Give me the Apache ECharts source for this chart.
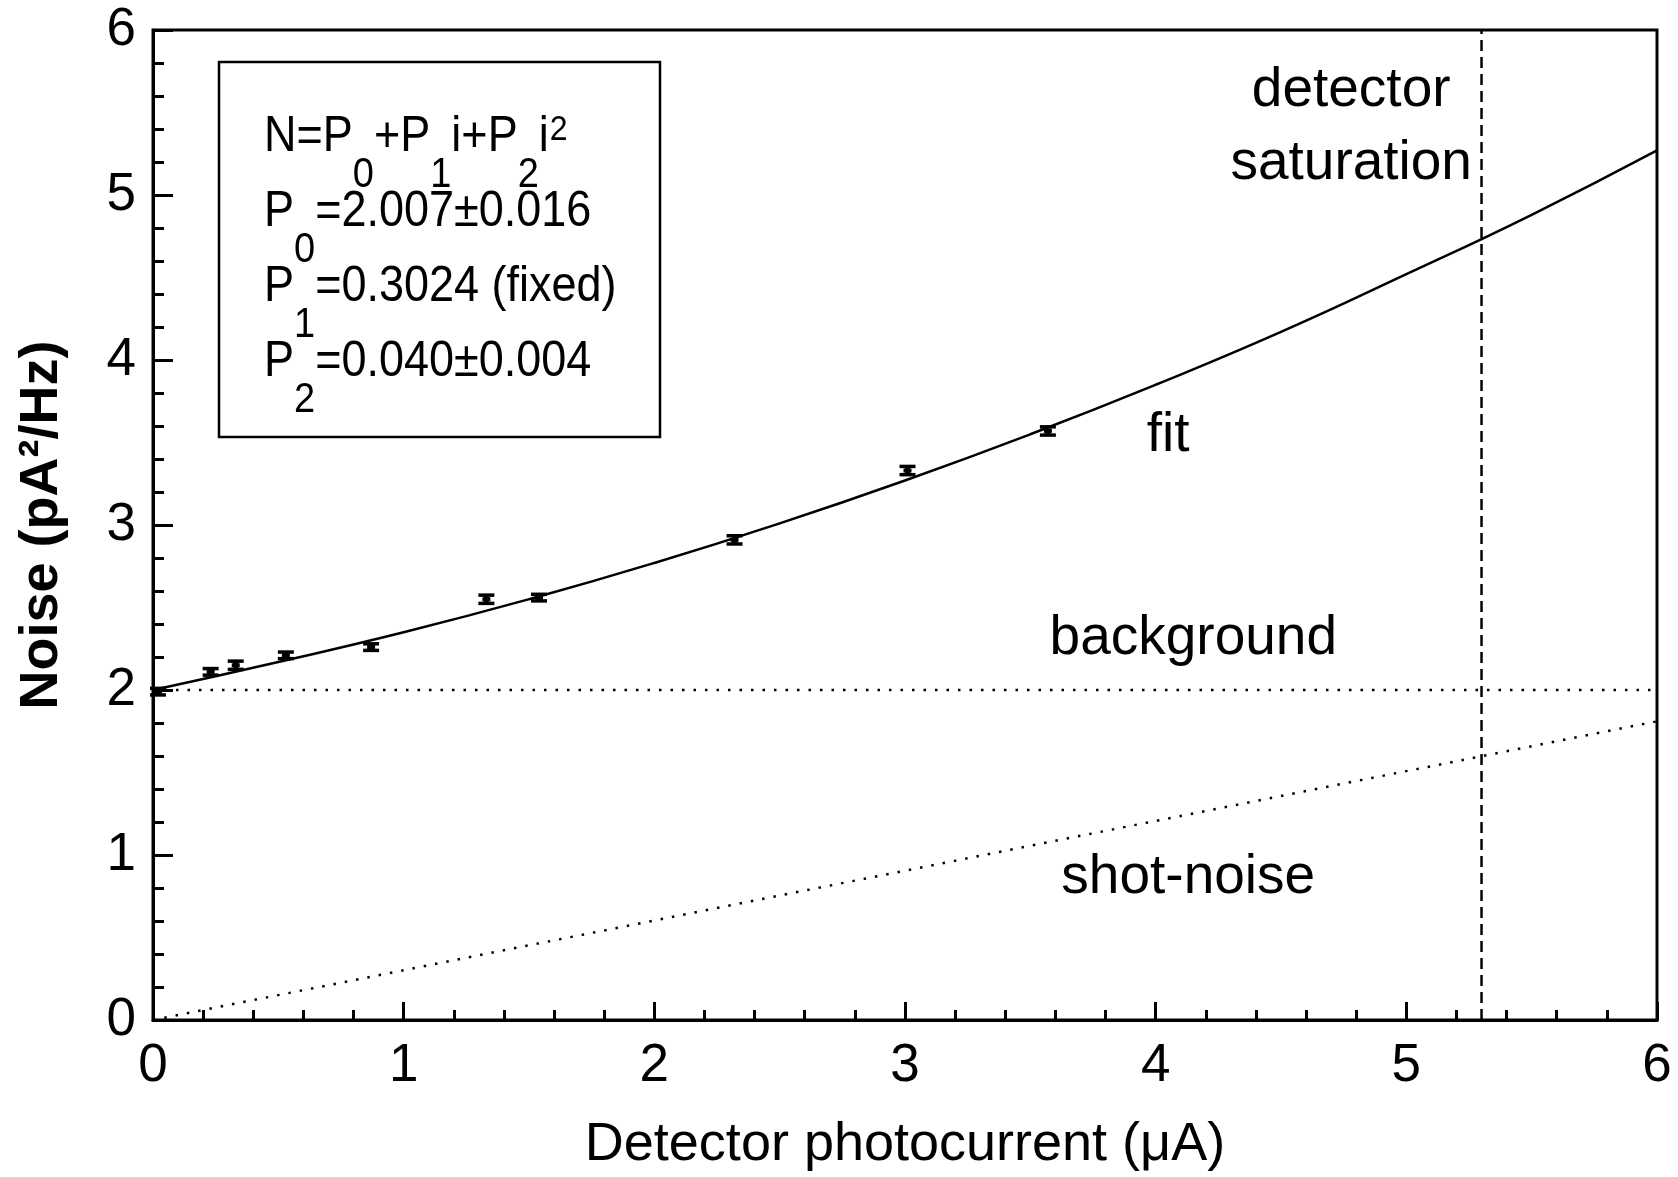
<!DOCTYPE html>
<html>
<head>
<meta charset="utf-8">
<script src="https://cdn.jsdelivr.net/npm/echarts@6/dist/echarts.min.js"></script>
<style>html,body{margin:0;padding:0;background:#fff}#c{width:1678px;height:1177px}</style>
</head>
<body>
<div id="c"></div>
<script>
// measured noise points (x: photocurrent µA, y: noise pA^2/Hz, err: half error bar)
const pointX = [0.02, 0.23, 0.33, 0.53, 0.87, 1.33, 1.54, 2.32, 3.01, 3.57];
const pointY = [1.99, 2.11, 2.15, 2.21, 2.26, 2.55, 2.56, 2.91, 3.33, 3.57];
const pointErr = [0.02, 0.02, 0.025, 0.02, 0.02, 0.025, 0.02, 0.025, 0.025, 0.025];
// fit curve
const fitX = [0, 0.5, 1, 1.5, 2, 2.5, 3, 3.5, 4, 4.5, 5, 5.5, 6];
const fitY = [2.00, 2.17, 2.35, 2.55, 2.77, 3.01, 3.27, 3.55, 3.85, 4.17, 4.52, 4.88, 5.27];
// background level
const bgX = [0, 6];
const bgY = [2.0, 2.0];
// shot-noise line
const shotX = [0, 6];
const shotY = [0, 1.81];
// detector saturation
const satX = [5.3, 5.3];
const satY = [0, 6];
// labels
const labelText = ['detector', 'saturation', 'fit', 'background', 'shot-noise'];
const labelX = [4.78, 4.78, 4.05, 4.15, 4.13];
const labelY = [5.63, 5.19, 3.54, 2.31, 0.86];
const xTicks = [0, 1, 2, 3, 4, 5, 6];
const yTicks = [0, 1, 2, 3, 4, 5, 6];
// fit-parameter box lines
const boxLines = [
  '{n|N=P}{s|0}{n|+P}{s|1}{n|i+P}{s|2}{n|i}{u|2}',
  '{n|P}{s|0}{n|=2.007\u00b10.016}',
  '{n|P}{s|1}{n|=0.3024 (fixed)}',
  '{n|P}{s|2}{n|=0.040\u00b10.004}'
];

const FONT = 'Liberation Sans, Arial, sans-serif';
const zip = (a, b) => a.map((v, i) => [v, b[i]]);

const boxGraphics = [
  { type: 'rect', shape: { x: 219, y: 62, width: 441, height: 375 },
    style: { fill: 'transparent', stroke: '#000', lineWidth: 2.5 }, z: 10 }
].concat(boxLines.map((t, k) => ({
  type: 'text', x: 264, y: 113 + 75 * k, scaleY: 1.1, z: 11,
  style: {
    text: t, fill: '#000', font: '45px ' + FONT,
    rich: {
      n: { fontFamily: FONT, fontSize: 45, lineHeight: 45, verticalAlign: 'top', fill: '#000' },
      s: { fontFamily: FONT, fontSize: 38, lineHeight: 38, verticalAlign: 'top', padding: [38, 0, 0, 0], fill: '#000' },
      u: { fontFamily: FONT, fontSize: 32, lineHeight: 32, verticalAlign: 'top', padding: [0, 0, 0, 1], fill: '#000' }
    }
  }
})));

const chart = echarts.init(document.getElementById('c'));
const option = {
  animation: false,
  backgroundColor: '#fff',
  grid: { left: 153, right: 21, top: 30, bottom: 155, show: true, borderColor: '#000', borderWidth: 3 },
  xAxis: {
    type: 'value', min: xTicks[0], max: xTicks[xTicks.length - 1], interval: 1,
    name: 'Detector photocurrent (\u03bcA)', nameLocation: 'middle', nameGap: 98,
    nameTextStyle: { fontFamily: FONT, fontSize: 54, color: '#000' },
    axisLine: { lineStyle: { color: '#000', width: 3 } },
    axisTick: { inside: true, length: 18, lineStyle: { color: '#000', width: 3 } },
    minorTick: { show: true, splitNumber: 5, length: 10, lineStyle: { color: '#000', width: 3 } },
    axisLabel: { fontFamily: FONT, fontSize: 53, color: '#000', margin: 20 },
    splitLine: { show: false }
  },
  yAxis: {
    type: 'value', min: yTicks[0], max: yTicks[yTicks.length - 1], interval: 1,
    name: 'Noise (pA\u00b2/Hz)', nameLocation: 'middle', nameGap: 84,
    nameTextStyle: { fontFamily: FONT, fontSize: 54, fontWeight: 'bold', color: '#000' },
    axisLine: { lineStyle: { color: '#000', width: 3 } },
    axisTick: { inside: true, length: 20, lineStyle: { color: '#000', width: 3 } },
    minorTick: { show: true, splitNumber: 5, length: 11, lineStyle: { color: '#000', width: 3 } },
    axisLabel: { fontFamily: FONT, fontSize: 53, color: '#000', margin: 17 },
    splitLine: { show: false }
  },
  graphic: boxGraphics,
  series: [
    { type: 'line', data: zip(fitX, fitY), smooth: true, symbol: 'none',
      lineStyle: { color: '#000', width: 2.5 }, z: 3 },
    { type: 'line', data: zip(bgX, bgY), symbol: 'none',
      lineStyle: { color: '#000', width: 2.5, type: [2.5, 9] }, z: 3 },
    { type: 'line', data: zip(shotX, shotY), symbol: 'none',
      lineStyle: { color: '#000', width: 2.5, type: [2.5, 9] }, z: 3 },
    { type: 'line', data: zip(satX, satY), symbol: 'none',
      lineStyle: { color: '#000', width: 2.5, type: [11, 6] }, z: 3 },
    { type: 'custom', z: 5,
      data: pointX.map((x, i) => [x, pointY[i] - pointErr[i], pointY[i] + pointErr[i], pointY[i]]),
      renderItem: function (params, api) {
        const lo = api.coord([api.value(0), api.value(1)]);
        const hi = api.coord([api.value(0), api.value(2)]);
        const mid = api.coord([api.value(0), api.value(3)]);
        const w = 8;
        const st = { stroke: '#000', lineWidth: 3.5 };
        return { type: 'group', children: [
          { type: 'line', shape: { x1: lo[0], y1: lo[1], x2: hi[0], y2: hi[1] }, style: { stroke: '#000', lineWidth: 5 } },
          { type: 'line', shape: { x1: lo[0] - w, y1: lo[1], x2: lo[0] + w, y2: lo[1] }, style: st },
          { type: 'line', shape: { x1: hi[0] - w, y1: hi[1], x2: hi[0] + w, y2: hi[1] }, style: st },
          { type: 'line', shape: { x1: mid[0] - 4, y1: mid[1], x2: mid[0] + 4, y2: mid[1] }, style: { stroke: '#000', lineWidth: 4 } }
        ] };
      }
    },
    { type: 'scatter', symbolSize: 0, silent: true, z: 6,
      itemStyle: { opacity: 1 },
      data: labelText.map((t, i) => ({ value: [labelX[i], labelY[i]], name: t })),
      label: { show: true, position: 'inside', formatter: p => p.name,
        fontFamily: FONT, fontSize: 55, color: '#000', textBorderWidth: 0 }
    }
  ]
};
chart.setOption(option);
</script>
</body>
</html>
